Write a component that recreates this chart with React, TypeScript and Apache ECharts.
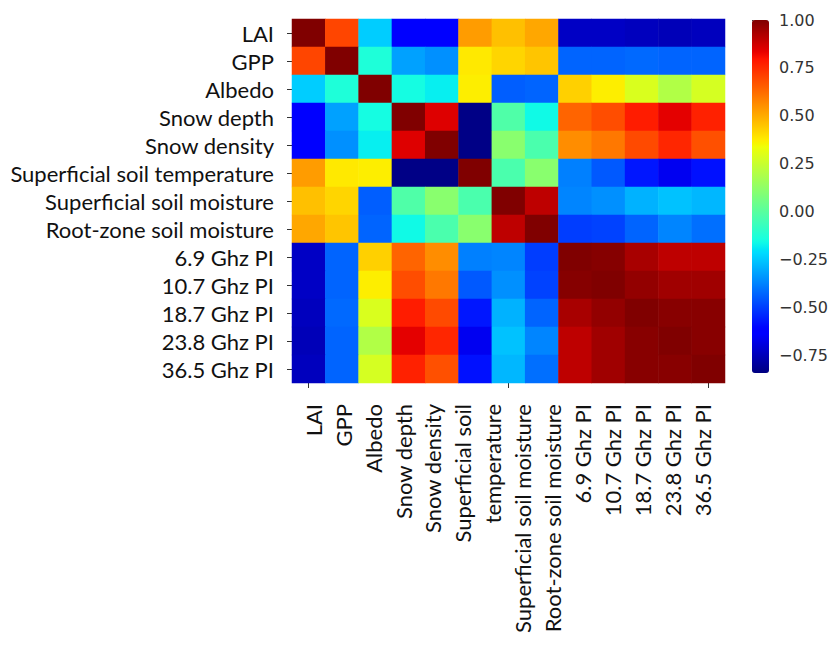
import React, { useEffect, useRef } from 'react';
import * as echarts from 'echarts';

const labels = [
  'LAI',
  'GPP',
  'Albedo',
  'Snow depth',
  'Snow density',
  'Superficial soil temperature',
  'Superficial soil moisture',
  'Root-zone soil moisture',
  '6.9 Ghz PI',
  '10.7 Ghz PI',
  '18.7 Ghz PI',
  '23.8 Ghz PI',
  '36.5 Ghz PI',
];

// x tick label lines as laid out under the heatmap (the long label is split in two lines)
const xTickLabels = [
  'LAI',
  'GPP',
  'Albedo',
  'Snow depth',
  'Snow density',
  'Superficial soil',
  'temperature',
  'Superficial soil moisture',
  'Root-zone soil moisture',
  '6.9 Ghz PI',
  '10.7 Ghz PI',
  '18.7 Ghz PI',
  '23.8 Ghz PI',
  '36.5 Ghz PI',
];

const rowLAI = [1.0, 0.7, -0.24, -0.62, -0.62, 0.53, 0.46, 0.51, -0.73, -0.73, -0.74, -0.75, -0.74];
const rowGPP = [0.7, 1.0, -0.13, -0.32, -0.35, 0.38, 0.42, 0.45, -0.43, -0.43, -0.42, -0.43, -0.43];
const rowAlbedo = [-0.24, -0.13, 1.0, -0.15, -0.18, 0.37, -0.44, -0.43, 0.43, 0.37, 0.29, 0.2, 0.28];
const rowSnowDepth = [-0.62, -0.32, -0.15, 1.0, 0.85, -0.83, -0.02, -0.16, 0.64, 0.685, 0.78, 0.84, 0.77];
const rowSnowDensity = [-0.62, -0.35, -0.18, 0.85, 1.0, -0.83, 0.11, -0.03, 0.56, 0.6, 0.69, 0.76, 0.68];
const rowSoilTemp = [0.53, 0.38, 0.37, -0.83, -0.83, 1.0, -0.03, 0.11, -0.38, -0.45, -0.57, -0.66, -0.58];
const rowSoilMoist = [0.46, 0.42, -0.44, -0.02, 0.11, -0.03, 1.0, 0.9, -0.37, -0.35, -0.29, -0.26, -0.28];
const rowRootMoist = [0.51, 0.45, -0.43, -0.16, -0.03, 0.11, 0.9, 1.0, -0.5, -0.49, -0.43, -0.37, -0.41];
const rowPI69 = [-0.73, -0.43, 0.43, 0.64, 0.56, -0.38, -0.37, -0.5, 1.0, 0.99, 0.935, 0.9, 0.9];
const rowPI107 = [-0.73, -0.43, 0.37, 0.685, 0.6, -0.45, -0.35, -0.49, 0.99, 1.0, 0.97, 0.948, 0.948];
const rowPI187 = [-0.74, -0.42, 0.29, 0.78, 0.69, -0.57, -0.29, -0.43, 0.935, 0.97, 1.0, 0.987, 0.987];
const rowPI238 = [-0.75, -0.43, 0.2, 0.84, 0.76, -0.66, -0.26, -0.37, 0.9, 0.948, 0.987, 1.0, 0.987];
const rowPI365 = [-0.74, -0.43, 0.28, 0.77, 0.68, -0.58, -0.28, -0.41, 0.9, 0.948, 0.987, 0.987, 1.0];

const rows = [
  rowLAI, rowGPP, rowAlbedo, rowSnowDepth, rowSnowDensity, rowSoilTemp, rowSoilMoist,
  rowRootMoist, rowPI69, rowPI107, rowPI187, rowPI238, rowPI365,
];

const colorbarTicks = [-0.75, -0.5, -0.25, 0, 0.25, 0.5, 0.75, 1.0];
const vMin = -0.84;
const vMax = 1.0;

function interp(t: number, xs: number[], ys: number[]) {
  if (t <= xs[0]) return ys[0];
  for (let i = 1; i < xs.length; i++) {
    if (t <= xs[i]) {
      const f = (t - xs[i - 1]) / (xs[i] - xs[i - 1]);
      return ys[i - 1] + f * (ys[i] - ys[i - 1]);
    }
  }
  return ys[ys.length - 1];
}

function jet(t: number) {
  const r = interp(t, [0, 0.35, 0.66, 0.89, 1], [0, 0, 1, 1, 0.5]);
  const g = interp(t, [0, 0.125, 0.375, 0.64, 0.91, 1], [0, 0, 1, 1, 0, 0]);
  const b = interp(t, [0, 0.11, 0.34, 0.65, 1], [0.5, 1, 1, 0, 0]);
  const h = (v: number) => Math.round(v * 255).toString(16).padStart(2, '0');
  return '#' + h(r) + h(g) + h(b);
}

const jetColors: string[] = [];
for (let i = 0; i <= 100; i++) jetColors.push(jet(i / 100));

export default function App() {
  const ref = useRef<HTMLDivElement>(null);
  useEffect(() => {
    document.body.style.margin = '0';
    const chart = echarts.init(ref.current!, null, { renderer: 'svg' });
    const data: [number, number, number][] = [];
    rows.forEach((row, i) => row.forEach((v, j) => data.push([j, i, v])));
    const font = 'Lato, "Open Sans", sans-serif';
    const tickStyle = { color: '#333', width: 1 };
    chart.setOption({
      animation: false,
      backgroundColor: '#ffffff',
      grid: [
        { left: 292, top: 19, width: 433, height: 364 },
        { left: 752, top: 20, width: 17, height: 353 },
        { left: 298.4, top: 19, width: 418.6, height: 364 },
      ],
      xAxis: [
        {
          type: 'category',
          gridIndex: 0,
          data: labels,
          position: 'bottom',
          axisLine: { show: false },
          axisTick: { show: true, alignWithLabel: true, length: 5, lineStyle: tickStyle },
          axisLabel: { show: false },
          splitLine: { show: false },
        },
        { type: 'value', gridIndex: 1, show: false, min: 0, max: 1 },
        {
          type: 'category',
          gridIndex: 2,
          data: xTickLabels,
          position: 'bottom',
          axisLine: { show: false },
          axisTick: { show: false },
          axisLabel: {
            interval: 0,
            rotate: 90,
            margin: 21,
            fontSize: 22,
            fontFamily: font,
            color: '#111',
          },
          splitLine: { show: false },
        },
      ],
      yAxis: [
        {
          type: 'category',
          gridIndex: 0,
          data: labels,
          inverse: true,
          axisLine: { show: false },
          axisTick: { show: true, alignWithLabel: true, length: 5, lineStyle: tickStyle },
          axisLabel: { interval: 0, margin: 18, fontSize: 22, fontFamily: font, color: '#111' },
          splitLine: { show: false },
        },
        {
          type: 'value',
          gridIndex: 1,
          position: 'right',
          min: vMin,
          max: vMax,
          axisLine: { show: false },
          splitLine: { show: false },
          axisTick: { show: true, length: 4, customValues: colorbarTicks, lineStyle: { color: '#333' } },
          axisLabel: {
            customValues: colorbarTicks,
            margin: 10,
            fontSize: 16,
            fontFamily: '"DejaVu Sans", sans-serif',
            color: '#333',
            formatter: (v: number) => v.toFixed(2).replace('-', '\u2212'),
          },
        },
        { type: 'value', gridIndex: 2, show: false, min: 0, max: 1 },
      ],
      visualMap: {
        type: 'continuous',
        min: vMin,
        max: vMax,
        seriesIndex: 0,
        calculable: false,
        orient: 'vertical',
        left: 752,
        top: 20,
        padding: 0,
        itemWidth: 17,
        itemHeight: 353,
        inRange: { color: jetColors },
        text: null,
        showLabel: false,
      },
      series: [
        {
          type: 'heatmap',
          xAxisIndex: 0,
          yAxisIndex: 0,
          data,
          itemStyle: { borderWidth: 0 },
          label: { show: false },
          emphasis: { disabled: true },
        },
      ],
    });
    return () => chart.dispose();
  }, []);
  return <div ref={ref} style={{ width: 832, height: 646 }} />;
}
